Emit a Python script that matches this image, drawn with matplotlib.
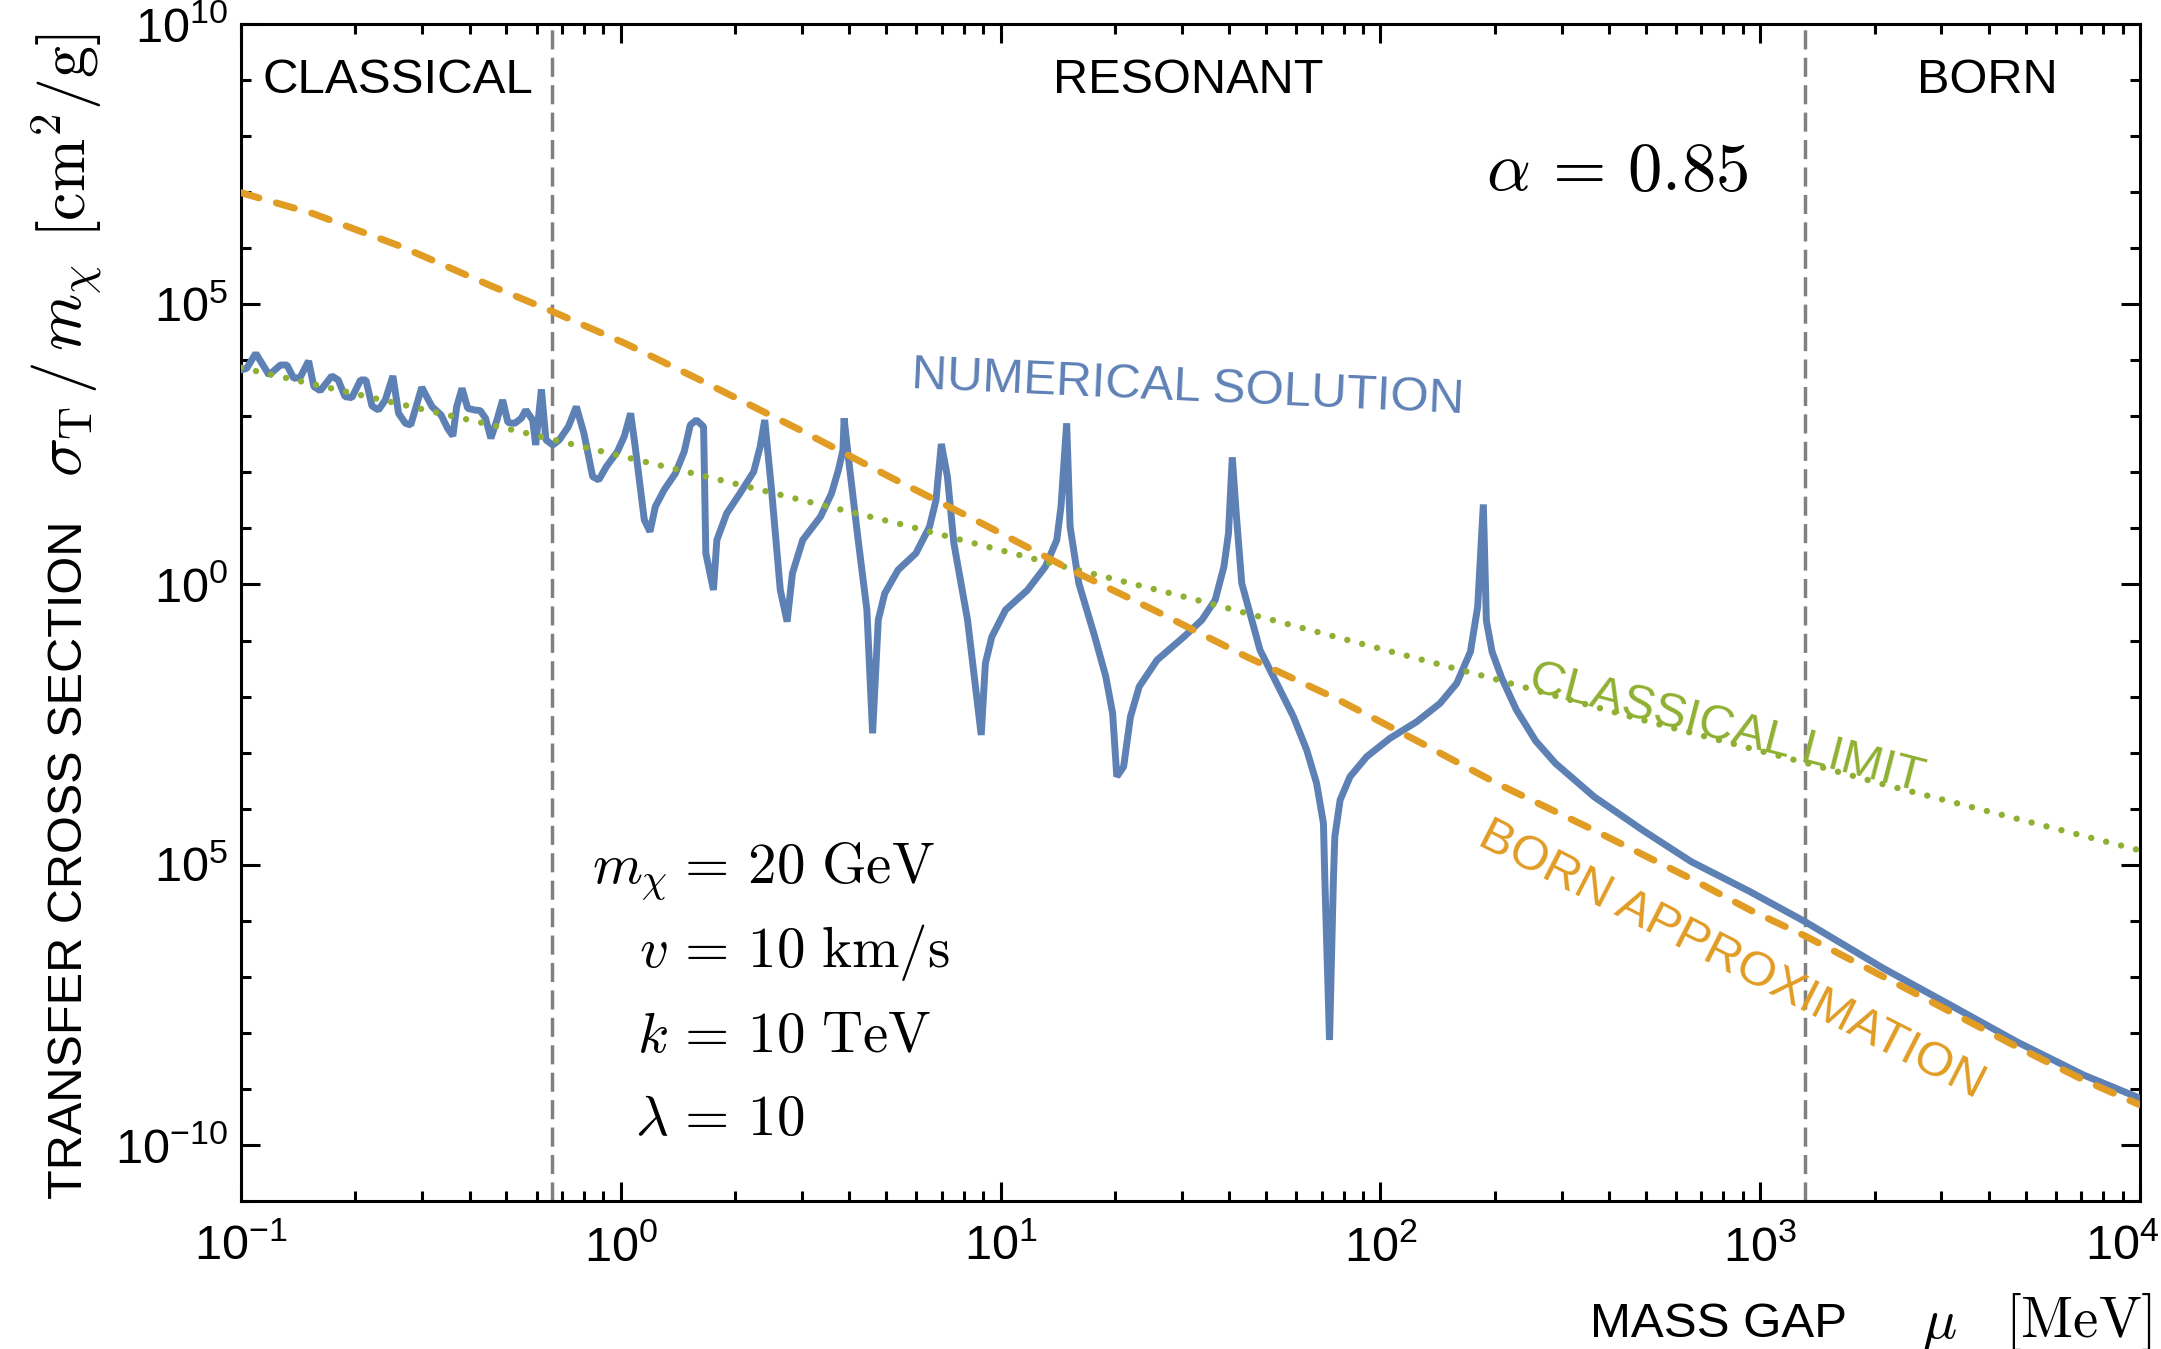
"""Transfer cross section against the mass gap: numerical solution vs. classical and Born limits."""

from __future__ import annotations

import matplotlib
import numpy as np

matplotlib.use("Agg")
import matplotlib.pyplot as plt
from matplotlib.ticker import FixedFormatter, FixedLocator, LogLocator, NullFormatter
from matplotlib.transforms import ScaledTranslation

# Values are log10(mu / MeV) and log10(sigma_T / m_chi / (cm^2/g)).
numerical_log_mu = [
    -1.000, -0.985, -0.961, -0.926, -0.896, -0.879, -0.861, -0.844, -0.822, -0.808,
    -0.791, -0.761, -0.744, -0.726, -0.708, -0.685, -0.671, -0.655, -0.638, -0.620,
    -0.600, -0.585, -0.567, -0.553, -0.524, -0.497, -0.473, -0.456, -0.442, -0.432,
    -0.418, -0.403, -0.385, -0.370, -0.356, -0.342, -0.326, -0.311, -0.297, -0.279,
    -0.262, -0.250, -0.232, -0.224, -0.209, -0.197, -0.179, -0.162, -0.138, -0.117,
    -0.097, -0.074, -0.058, -0.038, -0.009, 0.009, 0.026, 0.038, 0.062, 0.077,
    0.091, 0.114, 0.144, 0.167, 0.183, 0.199, 0.218, 0.224, 0.244, 0.253,
    0.279, 0.314, 0.350, 0.367, 0.379, 0.397, 0.420, 0.438, 0.452, 0.479,
    0.526, 0.555, 0.573, 0.585, 0.588, 0.599, 0.625, 0.648, 0.663, 0.678,
    0.695, 0.730, 0.777, 0.813, 0.830, 0.844, 0.860, 0.877, 0.913, 0.936,
    0.949, 0.960, 0.977, 1.013, 1.071, 1.118, 1.148, 1.159, 1.174, 1.183,
    1.206, 1.248, 1.277, 1.295, 1.306, 1.324, 1.342, 1.365, 1.412, 1.483,
    1.530, 1.565, 1.588, 1.600, 1.610, 1.621, 1.635, 1.683, 1.727, 1.771,
    1.806, 1.832, 1.850, 1.854, 1.866, 1.876, 1.880, 1.894, 1.920, 1.964,
    2.025, 2.096, 2.157, 2.201, 2.237, 2.256, 2.271, 2.279, 2.294, 2.320,
    2.358, 2.409, 2.461, 2.563, 2.691, 2.818, 2.973, 3.118, 3.324, 3.500,
    3.675, 3.851, 4.000,
]
numerical_log_sigma = [
    3.827, 3.857, 4.124, 3.738, 3.916, 3.916, 3.678, 3.696, 3.988, 3.530,
    3.458, 3.720, 3.649, 3.351, 3.334, 3.649, 3.649, 3.185, 3.113, 3.292,
    3.720, 3.054, 2.876, 2.846, 3.518, 3.173, 3.024, 2.786, 2.650, 3.173,
    3.500, 3.143, 3.113, 3.102, 2.965, 2.608, 2.935, 3.292, 2.888, 2.876,
    2.965, 3.113, 2.935, 2.489, 3.482, 2.578, 2.489, 2.578, 2.816, 3.173,
    2.697, 1.924, 1.865, 2.102, 2.370, 2.638, 3.054, 2.459, 1.151, 0.943,
    1.389, 1.686, 1.984, 2.370, 2.846, 2.935, 2.816, 0.556, -0.098, 0.794,
    1.270, 1.627, 2.013, 2.459, 2.935, 1.686, -0.098, -0.663, 0.199, 0.794,
    1.211, 1.627, 2.043, 2.400, 2.965, 2.281, 0.794, -0.455, -2.655, -0.633,
    -0.158, 0.259, 0.556, 1.032, 1.508, 2.507, 1.924, 0.735, -0.633, -1.941,
    -2.685, -1.406, -0.931, -0.455, -0.098, 0.319, 0.794, 1.389, 2.876, 1.032,
    0.021, -0.931, -1.644, -2.298, -3.428, -3.250, -2.358, -1.822, -1.347, -0.931,
    -0.633, -0.276, 0.319, 0.913, 2.269, 1.211, 0.021, -1.169, -1.763, -2.358,
    -2.953, -3.547, -4.261, -5.331, -8.127, -5.331, -4.499, -3.845, -3.429, -3.072,
    -2.745, -2.447, -2.120, -1.763, -1.200, -0.404, 1.428, -0.643, -1.200, -1.678,
    -2.236, -2.793, -3.192, -3.789, -4.386, -4.944, -5.480, -6.016, -6.848, -7.502,
    -8.157, -8.751, -9.167,
]

classical_log_mu = [-1.0, -0.64, -0.276, -0.036, 0.208, 0.486, 0.735, 1.126,
                    1.5, 1.771, 2.052, 2.291, 2.691, 3.125, 3.329, 4.0]
classical_log_sigma = [3.869, 3.310, 2.745, 2.352, 1.954, 1.490, 1.080, 0.390,
                       -0.247, -0.734, -1.240, -1.668, -2.419, -3.192, -3.574, -4.745]

born_log_mu = [-1.0, -0.812, -0.577, -0.342, -0.179, 0.011, 0.209, 0.472, 0.707,
               0.942, 1.177, 1.412, 1.647, 1.882, 2.117, 2.307, 2.563, 2.818,
               2.973, 3.118, 3.324, 3.5, 3.675, 3.851, 4.0]
born_log_sigma = [6.991, 6.622, 6.027, 5.33, 4.868, 4.303, 3.648, 2.757, 1.924,
                  1.121, 0.289, -0.484, -1.287, -2.031, -2.863, -3.550, -4.386, -5.25,
                  -5.807, -6.27, -6.997, -7.621, -8.246, -8.840, -9.286]

regime_bounds_mev = [0.66, 1310.0]
regime_names = ["CLASSICAL", "RESONANT", "BORN"]

x_tick_values = [1e-1, 1e0, 1e1, 1e2, 1e3, 1e4]
x_tick_labels = ["$10^{-1}$", "$10^{0}$", "$10^{1}$", "$10^{2}$", "$10^{3}$", "$10^{4}$"]
y_tick_values = [1e-10, 1e-5, 1e0, 1e5, 1e10]
y_tick_labels = ["$10^{-10}$", "$10^{5}$", "$10^{0}$", "$10^{5}$", "$10^{10}$"]

parameter_symbols = [r"$m_\chi$", r"$v$", r"$k$", r"$\lambda$"]
parameter_values = [r"$=\,20\ \mathrm{GeV}$", r"$=\,10\ \mathrm{km/s}$",
                    r"$=\,10\ \mathrm{TeV}$", r"$=\,10$"]

BLUE = "#5E81B5"
ORANGE = "#E19C24"
GREEN = "#8FB032"
GRAY = "#808080"
SANS = "Liberation Sans"


def _axes_text(ax, x, y, text, **kwargs):
    """Текст в долях осей, без обрезки за пределами рамки."""
    return ax.text(x, y, text, transform=ax.transAxes, clip_on=False, **kwargs)


def main() -> int:
    plt.rcParams.update({
        "font.family": SANS,
        "mathtext.fontset": "custom",
        "mathtext.rm": SANS,
        "mathtext.it": f"{SANS}:italic",
        "mathtext.bf": f"{SANS}:bold",
        "axes.linewidth": 2.2,
    })

    fig = plt.figure(figsize=(21.61, 13.49), dpi=100)
    ax = fig.add_axes([0.1115, 0.1097, 0.8788, 0.8725])
    ax.set_xscale("log")
    ax.set_yscale("log")

    for bound in regime_bounds_mev:
        ax.axvline(bound, color=GRAY, linewidth=2.5, dashes=(5.5, 2.4), zorder=1)

    ax.plot(np.power(10.0, numerical_log_mu), np.power(10.0, numerical_log_sigma),
            color=BLUE, linewidth=5.0, solid_joinstyle="bevel", zorder=3)
    ax.plot(np.power(10.0, classical_log_mu), np.power(10.0, classical_log_sigma),
            color=GREEN, linewidth=4.6, dashes=(0.01, 2.4), dash_capstyle="round", zorder=4)
    ax.plot(np.power(10.0, born_log_mu), np.power(10.0, born_log_sigma),
            color=ORANGE, linewidth=5.0, dashes=(2.7, 2.6), dash_capstyle="round", zorder=5)

    ax.set_xlim(1e-1, 1e4)
    ax.set_ylim(1e-11, 1e10)
    ax.xaxis.set_major_locator(FixedLocator(x_tick_values))
    ax.xaxis.set_major_formatter(FixedFormatter(x_tick_labels))
    ax.xaxis.set_minor_locator(LogLocator(base=10.0, subs=np.arange(2, 10), numticks=30))
    ax.xaxis.set_minor_formatter(NullFormatter())
    ax.yaxis.set_major_locator(FixedLocator(y_tick_values))
    ax.yaxis.set_major_formatter(FixedFormatter(y_tick_labels))
    ax.yaxis.set_minor_locator(LogLocator(base=10.0, subs=(1.0,), numticks=40))
    ax.yaxis.set_minor_formatter(NullFormatter())
    ax.tick_params(which="both", direction="in", top=True, right=True, width=2.2)
    ax.tick_params(which="major", length=13.5, labelsize=35)
    ax.tick_params(which="minor", length=7.0)
    ax.tick_params(axis="x", which="major", pad=17)
    ax.tick_params(axis="y", which="major", pad=9)

    # последняя подпись по x сдвинута внутрь картинки, как в оригинале
    last_label = ax.xaxis.get_majorticklabels()[-1]
    last_label.set_transform(last_label.get_transform()
                             + ScaledTranslation(-0.18, 0.0, fig.dpi_scale_trans))

    # регионы
    _axes_text(ax, 0.0116, 0.9414, regime_names[0], fontsize=35.5, ha="left", va="baseline")
    _axes_text(ax, 0.4987, 0.9414, regime_names[1], fontsize=35, ha="center", va="baseline")
    _axes_text(ax, 0.9194, 0.9414, regime_names[2], fontsize=35, ha="center", va="baseline")
    _axes_text(ax, 0.6556, 0.859, r"$\alpha\,=\,0.85$", fontsize=49.5, math_fontfamily="cm",
               ha="left", va="baseline")

    # подписи кривых
    _axes_text(ax, 0.3530, 0.6907, "NUMERICAL SOLUTION", color=BLUE, fontsize=35.5,
               rotation=-2.6, rotation_mode="anchor", ha="left", va="baseline")
    _axes_text(ax, 0.6772, 0.4342, "CLASSICAL LIMIT", color=GREEN, fontsize=35.3,
               rotation=-14.5, rotation_mode="anchor", ha="left", va="baseline")
    _axes_text(ax, 0.6504, 0.3033, "BORN APPROXIMATION", color=ORANGE, fontsize=35.6,
               rotation=-27.0, rotation_mode="anchor", ha="left", va="baseline")

    # параметры
    for row, (symbol, value) in enumerate(zip(parameter_symbols, parameter_values)):
        y = [0.2702, 0.1988, 0.1266, 0.0561][row]
        _axes_text(ax, 0.2249, y, symbol, fontsize=41, math_fontfamily="cm", ha="right", va="baseline")
        _axes_text(ax, 0.2288, y, value, fontsize=41, math_fontfamily="cm", ha="left", va="baseline")

    # подписи осей
    _axes_text(ax, -0.0837, 0.0017, "TRANSFER CROSS SECTION", fontsize=35, rotation=90,
               rotation_mode="anchor", ha="left", va="baseline")
    _axes_text(ax, -0.0916, 0.6155, r"$\sigma_\mathrm{T}\,/\,m_\chi$", fontsize=47,
               math_fontfamily="cm", rotation=90, rotation_mode="anchor", ha="left", va="center")
    _axes_text(ax, -0.0916, 0.8185, r"$[\mathrm{cm}^2/\mathrm{g}]$", fontsize=46,
               math_fontfamily="cm", rotation=90, rotation_mode="anchor", ha="left", va="center")
    _axes_text(ax, 0.8457, -0.1156, "MASS GAP", fontsize=35.5, ha="right", va="baseline")
    _axes_text(ax, 0.9036, -0.1156, r"$\mu$", fontsize=41, math_fontfamily="cm", ha="right", va="baseline")
    _axes_text(ax, 1.0063, -0.1156, r"$[\mathrm{MeV}]$", fontsize=41, math_fontfamily="cm",
               ha="right", va="baseline")

    fig.savefig("out.png", dpi=100)
    plt.close(fig)
    return 0


if __name__ == "__main__":
    raise SystemExit(main())
